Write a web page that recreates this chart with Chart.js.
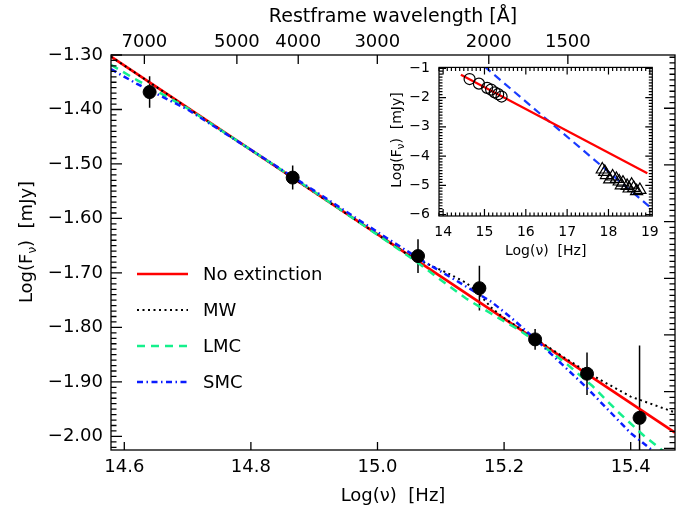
<!DOCTYPE html>
<html>
<head>
<meta charset="utf-8">
<title>SED extinction fits</title>
<script src="https://cdn.jsdelivr.net/npm/chart.js@4.4.1/dist/chart.umd.min.js"></script>
<style>
  body { margin: 0; background: #fff; }
  #wrap { position: relative; width: 686px; height: 508px; }
  #mainChart { position: absolute; left: 0; top: 0; width: 686px; height: 508px; }
  #insetChart { position: absolute; left: 390px; top: 50px; width: 290px; height: 220px; }
</style>
</head>
<body>
<div id="wrap">
  <canvas id="mainChart" width="686" height="508"></canvas>
  <canvas id="insetChart" width="290" height="220"></canvas>
</div>
<script>
// photometry (log nu [Hz], log F_nu [mJy], 1-sigma error)
const bandLogNu = [14.640, 14.866, 15.064, 15.161, 15.249, 15.331, 15.414];
const bandLogF = [-1.368, -1.525, -1.669, -1.728, -1.822, -1.885, -1.966];
const bandErr = [0.029, 0.022, 0.031, 0.041, 0.019, 0.039, 0.133];

// model curves
const noExtNu = [14.579, 15.47];
const noExtF = [-1.303, -1.993];
const mwNu = [14.579, 14.70, 14.90, 15.05, 15.08, 15.11, 15.14, 15.16, 15.18, 15.20, 15.25, 15.30, 15.35, 15.40, 15.47];
const mwF = [-1.303, -1.397, -1.552, -1.668, -1.684, -1.700, -1.718, -1.738, -1.764, -1.783, -1.821, -1.859, -1.895, -1.927, -1.956];
const lmcNu = [14.579, 14.62, 14.70, 14.80, 14.90, 15.00, 15.06, 15.10, 15.14, 15.18, 15.22, 15.26, 15.30, 15.34, 15.38, 15.42, 15.46];
const lmcF = [-1.318, -1.346, -1.398, -1.474, -1.551, -1.630, -1.678, -1.713, -1.747, -1.775, -1.802, -1.833, -1.868, -1.908, -1.955, -1.998, -2.035];
const smcNu = [14.579, 14.62, 14.70, 14.80, 14.90, 15.00, 15.07, 15.12, 15.18, 15.21, 15.25, 15.29, 15.33, 15.37, 15.40, 15.44];
const smcF = [-1.326, -1.353, -1.400, -1.474, -1.549, -1.625, -1.677, -1.711, -1.753, -1.781, -1.822, -1.866, -1.910, -1.958, -1.994, -2.031];

// inset: optical to X-ray
const xrayNu = [17.85, 17.91, 17.95, 18.03, 18.10, 18.19, 18.26, 18.31, 18.35, 18.45, 18.50, 18.56, 18.61, 18.68, 18.76];
const xrayF = [-4.46, -4.54, -4.65, -4.80, -4.70, -4.78, -4.87, -5.00, -4.91, -5.02, -5.11, -4.98, -5.09, -5.20, -5.16];
const insetFitNu = [14.43, 18.94];
const insetFitF = [-1.22, -4.59];
const insetSteepNu = [15.0, 19.0];
const insetSteepF = [-0.94, -5.74];

// axes
const xTicks = [14.6, 14.8, 15.0, 15.2, 15.4];
const yTicks = [-2.0, -1.9, -1.8, -1.7, -1.6, -1.5, -1.4, -1.3];
const topWavelengths = [7000, 5000, 4000, 3000, 2000, 1500];
const insetXTicks = [14, 15, 16, 17, 18, 19];
const insetYTicks = [-6, -5, -4, -3, -2, -1];

const legendNames = ['No extinction', 'MW', 'LMC', 'SMC'];

const FONT = 'DejaVu Sans';
const C_ANG = 2.998e18;
Chart.defaults.font.family = FONT;
Chart.defaults.color = '#000';

const pts = (xs, ys) => xs.map((v, i) => ({x: v, y: ys[i]}));
const minus = s => String(s).replace('-', '\u2212');
const fixTicks = vals => s => { s.ticks = vals.map(v => ({value: v})); };

function drawFnuTitle(ctx, cx, cy, size) {
  const big = size + 'px "' + FONT + '"';
  const small = Math.round(size * 0.68) + 'px "' + FONT + '"';
  const parts = [['Log(F', big, 0], ['\u03bd', small, size * 0.32], [')  [mJy]', big, 0]];
  ctx.save();
  ctx.translate(cx, cy);
  ctx.rotate(-Math.PI / 2);
  ctx.fillStyle = '#000';
  ctx.textBaseline = 'middle';
  ctx.textAlign = 'left';
  let total = 0;
  parts.forEach(p => { ctx.font = p[1]; total += ctx.measureText(p[0]).width; });
  let xx = -total / 2;
  parts.forEach(p => {
    ctx.font = p[1];
    ctx.fillText(p[0], xx, p[2]);
    xx += ctx.measureText(p[0]).width;
  });
  ctx.restore();
}

const mainDecor = {
  id: 'mainDecor',
  beforeDatasetsDraw(chart) {
    const {ctx, chartArea: a, scales: {x, y}} = chart;
    ctx.save();
    ctx.beginPath();
    ctx.rect(a.left, a.top, a.right - a.left, a.bottom - a.top);
    ctx.clip();
    ctx.strokeStyle = '#000';
    ctx.lineWidth = 1.5;
    ctx.beginPath();
    bandLogNu.forEach((nu, i) => {
      const px = x.getPixelForValue(nu);
      ctx.moveTo(px, y.getPixelForValue(bandLogF[i] + bandErr[i]));
      ctx.lineTo(px, y.getPixelForValue(bandLogF[i] - bandErr[i]));
    });
    ctx.stroke();
    ctx.restore();
  },
  afterDraw(chart) {
    const {ctx, chartArea: a, scales: {x, y, yR, xTop}} = chart;
    ctx.save();
    ctx.strokeStyle = '#000';
    ctx.lineWidth = 1.3;
    ctx.strokeRect(a.left, a.top, a.right - a.left, a.bottom - a.top);
    ctx.beginPath();
    for (let k = -205; k <= -129; k++) {
      const p = y.getPixelForValue(k / 100);
      if (p < a.top - 0.5 || p > a.bottom + 0.5) continue;
      const len = k % 10 === 0 ? 11 : 5.5;
      ctx.moveTo(a.left, p); ctx.lineTo(a.left + len, p);
    }
    for (let k = -205; k <= -129; k++) {
      const p = yR.getPixelForValue(k / 100);
      if (p < a.top - 0.5 || p > a.bottom + 0.5) continue;
      const len = k % 10 === 0 ? 11 : 5.5;
      ctx.moveTo(a.right, p); ctx.lineTo(a.right - len, p);
    }
    xTicks.forEach(v => {
      const p = x.getPixelForValue(v);
      ctx.moveTo(p, a.bottom); ctx.lineTo(p, a.bottom - 8);
    });
    xTop.ticks.forEach(t => {
      const p = xTop.getPixelForValue(t.value);
      ctx.moveTo(p, a.top); ctx.lineTo(p, a.top + 9);
    });
    ctx.stroke();

    // legend inside the plot
    ctx.font = '18px "' + FONT + '"';
    ctx.textBaseline = 'middle';
    ctx.textAlign = 'left';
    ctx.fillStyle = '#000';
    legendNames.forEach((name, i) => {
      const ds = chart.data.datasets.find(d => d.label === name);
      const ly = 274 + i * 36;
      ctx.beginPath();
      ctx.strokeStyle = ds.borderColor;
      ctx.lineWidth = ds.borderWidth;
      ctx.setLineDash(ds.borderDash || []);
      ctx.moveTo(137, ly); ctx.lineTo(188, ly);
      ctx.stroke();
      ctx.setLineDash([]);
      ctx.fillText(name, 203, ly + 1);
    });

    drawFnuTitle(ctx, 27, 242, 18);
    ctx.restore();
  }
};

new Chart(document.getElementById('mainChart'), {
  type: 'scatter',
  data: {
    datasets: [
      {label: 'data', data: pts(bandLogNu, bandLogF), pointRadius: 6.5, pointBackgroundColor: '#000', pointBorderColor: '#000', showLine: false},
      {label: 'SMC', data: pts(smcNu, smcF), showLine: true, pointRadius: 0, borderColor: '#0a1cff', borderWidth: 2.5, borderDash: [6, 3.5, 1.5, 3.5]},
      {label: 'LMC', data: pts(lmcNu, lmcF), showLine: true, pointRadius: 0, borderColor: '#14f08c', borderWidth: 2.5, borderDash: [8, 6]},
      {label: 'MW', data: pts(mwNu, mwF), showLine: true, pointRadius: 0, borderColor: '#000', borderWidth: 2, borderDash: [2, 3.5]},
      {label: 'No extinction', data: pts(noExtNu, noExtF), showLine: true, pointRadius: 0, borderColor: '#ff0000', borderWidth: 2.6}
    ]
  },
  options: {
    responsive: false,
    animation: false,
    events: [],
    layout: {padding: {left: 0, right: 11, top: 0, bottom: 0}},
    plugins: {legend: {display: false}, tooltip: {enabled: false}},
    scales: {
      x: {
        type: 'linear', position: 'bottom', min: 14.579, max: 15.47, bounds: 'data',
        afterBuildTicks: fixTicks(xTicks),
        afterFit: s => { s.height = 58; },
        grid: {display: false, drawTicks: false},
        border: {display: false},
        ticks: {font: {size: 18}, padding: 7, autoSkip: false, maxRotation: 0, callback: v => v.toFixed(1)},
        title: {display: true, text: 'Log(\u03bd)  [Hz]', font: {size: 18}, padding: {top: 0, bottom: 1}}
      },
      xTop: {
        type: 'linear', position: 'top', min: 14.579, max: 15.47, bounds: 'data',
        afterBuildTicks: fixTicks(topWavelengths.map(l => Math.log10(C_ANG / l))),
        afterFit: s => { s.height = 55; },
        grid: {display: false, drawTicks: false},
        border: {display: false},
        ticks: {font: {size: 18}, padding: 2, autoSkip: false, maxRotation: 0, callback: (v, i) => String(topWavelengths[i])},
        title: {display: true, text: 'Restframe wavelength [\u00c5]', font: {size: 19}, padding: {top: 6, bottom: 0}}
      },
      y: {
        type: 'linear', position: 'left', min: -2.025, max: -1.30, bounds: 'data',
        afterBuildTicks: fixTicks(yTicks),
        afterFit: s => { s.width = 111; },
        grid: {display: false, drawTicks: false},
        border: {display: false},
        ticks: {font: {size: 18}, padding: 8, autoSkip: false, callback: v => minus(v.toFixed(2))}
      },
      yR: {
        type: 'linear', position: 'right', min: -2.003, max: -1.306, display: false
      }
    }
  },
  plugins: [mainDecor]
});

const insetDecor = {
  id: 'insetDecor',
  afterDraw(chart) {
    const {ctx, chartArea: a, scales: {x, y}} = chart;
    ctx.save();
    ctx.strokeStyle = '#000';
    ctx.lineWidth = 1.2;
    ctx.strokeRect(a.left, a.top, a.right - a.left, a.bottom - a.top);
    ctx.beginPath();
    for (let k = -61; k <= -9; k++) {
      const p = y.getPixelForValue(k / 10);
      if (p < a.top - 0.5 || p > a.bottom + 0.5) continue;
      const len = k % 10 === 0 ? 7 : 3.5;
      ctx.moveTo(a.left, p); ctx.lineTo(a.left + len, p);
      ctx.moveTo(a.right, p); ctx.lineTo(a.right - len, p);
    }
    for (let k = 139; k <= 191; k++) {
      const p = x.getPixelForValue(k / 10);
      if (p < a.left - 0.5 || p > a.right + 0.5) continue;
      const len = k % 10 === 0 ? 7 : 3.5;
      ctx.moveTo(p, a.bottom); ctx.lineTo(p, a.bottom - len);
      ctx.moveTo(p, a.top); ctx.lineTo(p, a.top + len);
    }
    ctx.stroke();
    drawFnuTitle(ctx, 7, 90, 14);
    ctx.restore();
  }
};

new Chart(document.getElementById('insetChart'), {
  type: 'scatter',
  data: {
    datasets: [
      {label: 'optical', data: pts(bandLogNu, bandLogF), pointStyle: 'circle', pointRadius: 5.5, pointBorderWidth: 1.2, pointBorderColor: '#000', pointBackgroundColor: 'rgba(0,0,0,0)', showLine: false},
      {label: 'X-ray', data: pts(xrayNu, xrayF), pointStyle: 'triangle', pointRadius: 7, pointBorderWidth: 1.2, pointBorderColor: '#000', pointBackgroundColor: 'rgba(0,0,0,0)', showLine: false},
      {label: 'fit', data: pts(insetFitNu, insetFitF), showLine: true, pointRadius: 0, borderColor: '#ff0000', borderWidth: 2.2},
      {label: 'steep', data: pts(insetSteepNu, insetSteepF), showLine: true, pointRadius: 0, borderColor: '#1a3cff', borderWidth: 2.2, borderDash: [8, 5]}
    ]
  },
  options: {
    responsive: false,
    animation: false,
    events: [],
    layout: {padding: {left: 0, right: 27.7, top: 14.3, bottom: 0}},
    plugins: {legend: {display: false}, tooltip: {enabled: false}},
    scales: {
      x: {
        type: 'linear', min: 13.9, max: 19.06, bounds: 'data',
        afterBuildTicks: fixTicks(insetXTicks),
        afterFit: s => { s.height = 54; },
        grid: {display: false, drawTicks: false},
        border: {display: false},
        ticks: {font: {size: 14}, padding: 8, autoSkip: false, maxRotation: 0, callback: v => String(v)},
        title: {display: true, text: 'Log(\u03bd)  [Hz]', font: {size: 14}, padding: {top: 0, bottom: 10}}
      },
      y: {
        type: 'linear', min: -6.05, max: -0.97, bounds: 'data',
        afterBuildTicks: fixTicks(insetYTicks),
        afterFit: s => { s.width = 49; },
        grid: {display: false, drawTicks: false},
        border: {display: false},
        ticks: {font: {size: 14}, padding: 9, autoSkip: false, callback: v => minus(v)}
      }
    }
  },
  plugins: [insetDecor]
});
</script>
</body>
</html>
